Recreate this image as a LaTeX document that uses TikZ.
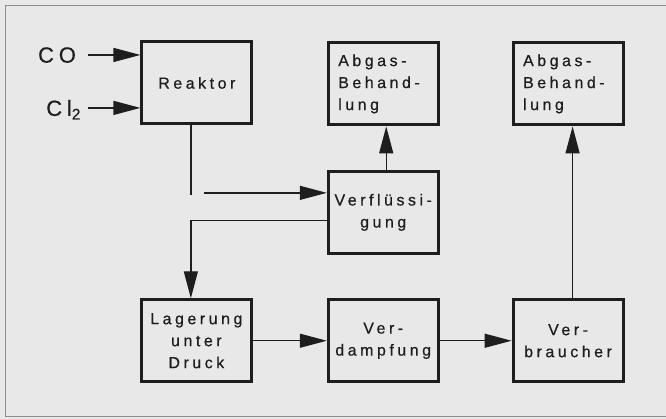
\documentclass[tikz,border=0pt]{standalone}
\usepackage{fontspec}
\setmainfont{Liberation Sans}
\newfontfamily\boxfont[LetterSpace=22,FakeBold=0.6]{Liberation Sans}
\usetikzlibrary{arrows.meta}
\definecolor{paper}{HTML}{E8E8E8}
\definecolor{ink}{HTML}{1E1E1E}
\definecolor{rim}{HTML}{8C8C8C}
\tikzset{
  box/.style={draw=ink,line width=3pt,minimum width=110pt,minimum height=82pt,
    inner sep=2pt,align=center,text=ink,font=\boxfont\fontsize{16}{22}\selectfont},
  leftbox/.style={box,align=left,text width=91pt,inner xsep=9.5pt},
  feed/.style={text=ink,inner sep=0pt,outer xsep=7pt,anchor=east,text depth=0pt,
    font=\boxfont\fontsize{22}{26}\selectfont},
  pipe/.style={draw=ink,line width=1.3pt},
  flow/.style={pipe,-{Triangle[length=27pt,width=14pt]}}
}
\begin{document}
\begin{tikzpicture}[x=1pt,y=-1pt]
  % paper and frame
  \fill[paper] (0,0) rectangle (666,419);
  \draw[rim,line width=1pt] (666,5.5) -- (6,5.5) -- (6,416.5) -- (666,416.5);

  % units
  \node[box] (reaktor) at (197,83) {Reaktor};
  \node[leftbox] (abgasa) at (384,84) {Abgas-\\Behand-\\lung};
  \node[leftbox] (abgasb) at (569,84) {Abgas-\\Behand-\\lung};
  \node[box] (verfl) at (383.5,212.5) {Verflüssi-\\gung};
  \node[box] (lager) at (196.5,341) {Lagerung\\unter\\Druck};
  \node[box] (verd) at (383.5,341) {Ver-\\dampfung};
  \node[box] (verbr) at (568.5,341) {Ver-\\braucher};

  % feeds
  \node[feed] (co) at (83,55) {CO};
  \node[feed] (cl) at (88,108) {Cl\textsubscript{2}};
  \draw[flow] (cl.east |- co.east) -- (co.east -| reaktor.west);
  \draw[flow] (cl.east) -- (cl.east -| reaktor.west);

  % streams
  \coordinate (rk) at (191,195);
  \coordinate (hf) at (204,193);
  \coordinate (back) at (191,221);
  \coordinate (ua) at ([xshift=3pt]verfl.north);
  \coordinate (ub) at ([xshift=4.5pt]verbr.north);
  \draw[pipe] (reaktor.south -| rk) -- (rk);
  \draw[flow] (hf) -- (hf -| verfl.west);
  \draw[flow] (verfl.west |- back) -- (back) -- (lager.north -| back);
  \draw[flow] (ua) -- (ua |- abgasa.south);
  \draw[flow] (lager) -- (verd);
  \draw[flow] (verd) -- (verbr);
  \draw[flow] (ub) -- (ub |- abgasb.south);
\end{tikzpicture}
\end{document}
